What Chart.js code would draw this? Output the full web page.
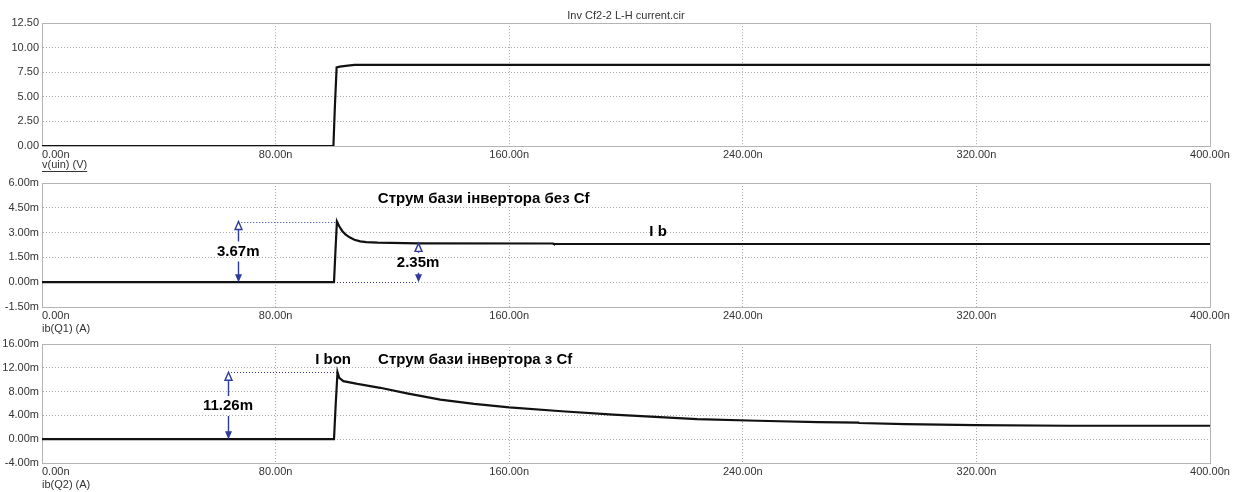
<!DOCTYPE html>
<html>
<head>
<meta charset="utf-8">
<script src="https://cdn.jsdelivr.net/npm/chart.js@4.4.1/dist/chart.umd.min.js"></script>
<style>
  body { margin: 0; background: #fff; }
  #wrap { position: relative; width: 1238px; height: 492px; }
  canvas { position: absolute; left: 0; }
</style>
</head>
<body>
<div id="wrap">
  <canvas id="vuin" width="1238" height="176" style="top:0"></canvas>
  <canvas id="ibq1" width="1238" height="170" style="top:170px"></canvas>
  <canvas id="ibq2" width="1238" height="162" style="top:330px"></canvas>
</div>
<script>
// time axis, ns
const timeTicks = [0, 80, 160, 240, 320, 400];

// v(uin), V
const vinTime = [0, 99.8, 100.3, 100.9, 102, 104, 107, 400];
const vinVolts = [0, 0, 4.0, 8.0, 8.08, 8.16, 8.25, 8.25];
const vinTicks = [0, 2.5, 5, 7.5, 10, 12.5];

// ib(Q1), mA (no Cf)
const ibq1Time = [0, 100, 100.5, 101, 101.8, 102.8, 104, 105.5, 107, 109, 111, 115, 128.8, 175, 175.3, 400];
const ibq1mA = [0, 0, 1.9, 3.67, 3.38, 3.1, 2.88, 2.70, 2.57, 2.47, 2.42, 2.39, 2.35, 2.34, 2.31, 2.31];
const ibq1Ticks = [-1.5, 0, 1.5, 3, 4.5, 6];

// ib(Q2), mA (with Cf)
const ibq2Time = [0, 100, 100.6, 101.2, 101.8, 103.2, 108, 115.8, 125, 136.4, 148, 160, 178, 195.6, 210, 224.3, 245, 265.8, 279.6, 279.8, 295.6, 319.6, 351.5, 400];
const ibq2mA = [0, 0, 6, 11.26, 10.3, 9.76, 9.3, 8.64, 7.7, 6.66, 5.95, 5.36, 4.7, 4.12, 3.75, 3.39, 3.1, 2.88, 2.8, 2.72, 2.54, 2.37, 2.26, 2.26];
const ibq2Ticks = [-4, 0, 4, 8, 12, 16];

const FONT = 'Arial, "Liberation Sans", sans-serif';
const BLUE = '#2f3a99';

function pts(ts, vs) {
    return ts.map((t, i) => ({ x: t, y: vs[i] }));
}

function headUp(ctx, x, y) {
    ctx.beginPath();
    ctx.moveTo(x, y);
    ctx.lineTo(x - 3.5, y + 8);
    ctx.lineTo(x + 3.5, y + 8);
    ctx.closePath();
    ctx.fillStyle = '#fff';
    ctx.fill();
    ctx.stroke();
}

function headDown(ctx, x, y) {
    ctx.beginPath();
    ctx.moveTo(x, y);
    ctx.lineTo(x - 3.5, y - 8);
    ctx.lineTo(x + 3.5, y - 8);
    ctx.closePath();
    ctx.fillStyle = BLUE;
    ctx.fill();
}

// frame, x labels, trace name and the measurement marks
const scopePlugin = {
    id: 'scope',
    beforeDatasetsDraw(chart, args, o) {
        const { ctx, chartArea: a, scales: { x, y } } = chart;
        ctx.save();
        ctx.strokeStyle = '#b4b4b4';
        ctx.lineWidth = 1;
        ctx.strokeRect(Math.round(a.left) + 0.5, Math.round(a.top) + 0.5,
            Math.round(a.right - a.left), Math.round(a.bottom - a.top));

        // dotted guides
        ctx.strokeStyle = BLUE;
        ctx.setLineDash([1, 2]);
        (o.guides || []).forEach(g => {
            const py = Math.round(y.getPixelForValue(g.v)) + 0.5;
            ctx.beginPath();
            ctx.moveTo(x.getPixelForValue(g.t0), py);
            ctx.lineTo(x.getPixelForValue(g.t1), py);
            ctx.stroke();
        });
        ctx.restore();
    },
    afterDraw(chart, args, o) {
        const { ctx, chartArea: a, scales: { x, y } } = chart;
        ctx.save();
        ctx.font = '11px ' + FONT;
        ctx.fillStyle = '#333';
        ctx.textBaseline = 'middle';
        timeTicks.forEach((v, i) => {
            ctx.textAlign = i === 0 ? 'left' : 'center';
            ctx.fillText(v.toFixed(2) + 'n', x.getPixelForValue(v), a.bottom + 9);
        });

        ctx.textAlign = 'left';
        const ny = a.bottom + o.nameGap;
        ctx.fillText(o.name, a.left, ny);
        if (o.underline) {
            const w = ctx.measureText(o.name).width;
            ctx.fillRect(a.left, ny + 6, w, 1);
        }

        // arrows with value labels
        ctx.strokeStyle = BLUE;
        ctx.lineWidth = 1.4;
        (o.arrows || []).forEach(r => {
            const px = Math.round(x.getPixelForValue(r.t)) + 0.5;
            const top = y.getPixelForValue(r.to);
            const bot = y.getPixelForValue(r.from);
            const ly = y.getPixelForValue(r.labelAt);
            ctx.beginPath();
            ctx.moveTo(px, top + 7);
            ctx.lineTo(px, ly - 10);
            ctx.moveTo(px, ly + 10);
            ctx.lineTo(px, bot - 7);
            ctx.stroke();
            headUp(ctx, px, top);
            headDown(ctx, px, bot);
        });

        ctx.fillStyle = '#000';
        ctx.font = 'bold 15px ' + FONT;
        (o.notes || []).forEach(n => {
            ctx.textAlign = n.align || 'center';
            ctx.fillText(n.text, x.getPixelForValue(n.t), y.getPixelForValue(n.v));
        });
        ctx.restore();
    }
};

function makePanel(id, cfg) {
    const ctx = document.getElementById(id).getContext('2d');
    const chart = new Chart(ctx, {
        type: 'line',
        data: {
            datasets: [{
                data: pts(cfg.time, cfg.values),
                borderColor: '#111',
                borderWidth: 2.2,
                pointRadius: 0,
                tension: 0
            }]
        },
        options: {
            responsive: false,
            animation: false,
            layout: { padding: { top: cfg.padTop, right: 28, left: 0, bottom: 0 } },
            scales: {
                x: {
                    type: 'linear',
                    min: 0,
                    max: 400,
                    afterBuildTicks: s => { s.ticks = timeTicks.map(v => ({ value: v })); },
                    afterFit: s => { s.height = cfg.bottomGap; },
                    ticks: { display: false },
                    grid: { color: '#a8a8a8', drawTicks: false },
                    border: { color: '#b4b4b4', dash: [1, 2] }
                },
                y: {
                    min: cfg.ticks[0],
                    max: cfg.ticks[cfg.ticks.length - 1],
                    afterBuildTicks: s => { s.ticks = cfg.ticks.map(v => ({ value: v })); },
                    afterFit: s => { s.width = 42; },
                    ticks: {
                        color: '#333',
                        padding: 3,
                        font: { family: FONT, size: 11 },
                        callback: v => v.toFixed(2) + cfg.unit
                    },
                    grid: { color: '#a8a8a8', drawTicks: false },
                    border: { color: '#b4b4b4', dash: [1, 2] }
                }
            },
            plugins: {
                legend: { display: false },
                tooltip: { enabled: false },
                title: cfg.title ? {
                    display: true,
                    text: cfg.title,
                    fullSize: false,
                    color: '#333',
                    font: { family: FONT, size: 11, weight: 'normal' },
                    padding: { top: 9, bottom: 1 }
                } : { display: false },
                scope: cfg.scope
            }
        },
        plugins: [scopePlugin]
    });
    return chart;
}

makePanel('vuin', {
    time: vinTime, values: vinVolts, ticks: vinTicks, unit: '',
    title: 'Inv Cf2-2 L-H current.cir', padTop: 0, bottomGap: 30,
    scope: { name: 'v(uin) (V)', underline: true, nameGap: 19 }
});

makePanel('ibq1', {
    time: ibq1Time, values: ibq1mA, ticks: ibq1Ticks, unit: 'm',
    padTop: 13, bottomGap: 33,
    scope: {
        name: 'ib(Q1) (A)', nameGap: 22,
        guides: [{ t0: 67.2, t1: 101, v: 3.67 }, { t0: 100, t1: 128.8, v: 0 }],
        arrows: [{ t: 67.2, from: 0, to: 3.67, labelAt: 1.85 }, { t: 128.8, from: 0, to: 2.35, labelAt: 1.17 }],
        notes: [
            { text: '3.67m', t: 67.2, v: 1.85 },
            { text: '2.35m', t: 128.8, v: 1.17 },
            { text: 'Струм бази інвертора без Cf', t: 115, v: 5.04, align: 'left' },
            { text: 'I b', t: 211, v: 3.02 }
        ]
    }
});

makePanel('ibq2', {
    time: ibq2Time, values: ibq2mA, ticks: ibq2Ticks, unit: 'm',
    padTop: 14, bottomGap: 29,
    scope: {
        name: 'ib(Q2) (A)', nameGap: 22,
        guides: [{ t0: 63.7, t1: 101.2, v: 11.26 }],
        arrows: [{ t: 63.7, from: 0, to: 11.26, labelAt: 5.6 }],
        notes: [
            { text: '11.26m', t: 63.7, v: 5.6 },
            { text: 'I bon', t: 99.7, v: 13.3 },
            { text: 'Струм бази інвертора з Cf', t: 115.1, v: 13.3, align: 'left' }
        ]
    }
});
</script>
</body>
</html>
